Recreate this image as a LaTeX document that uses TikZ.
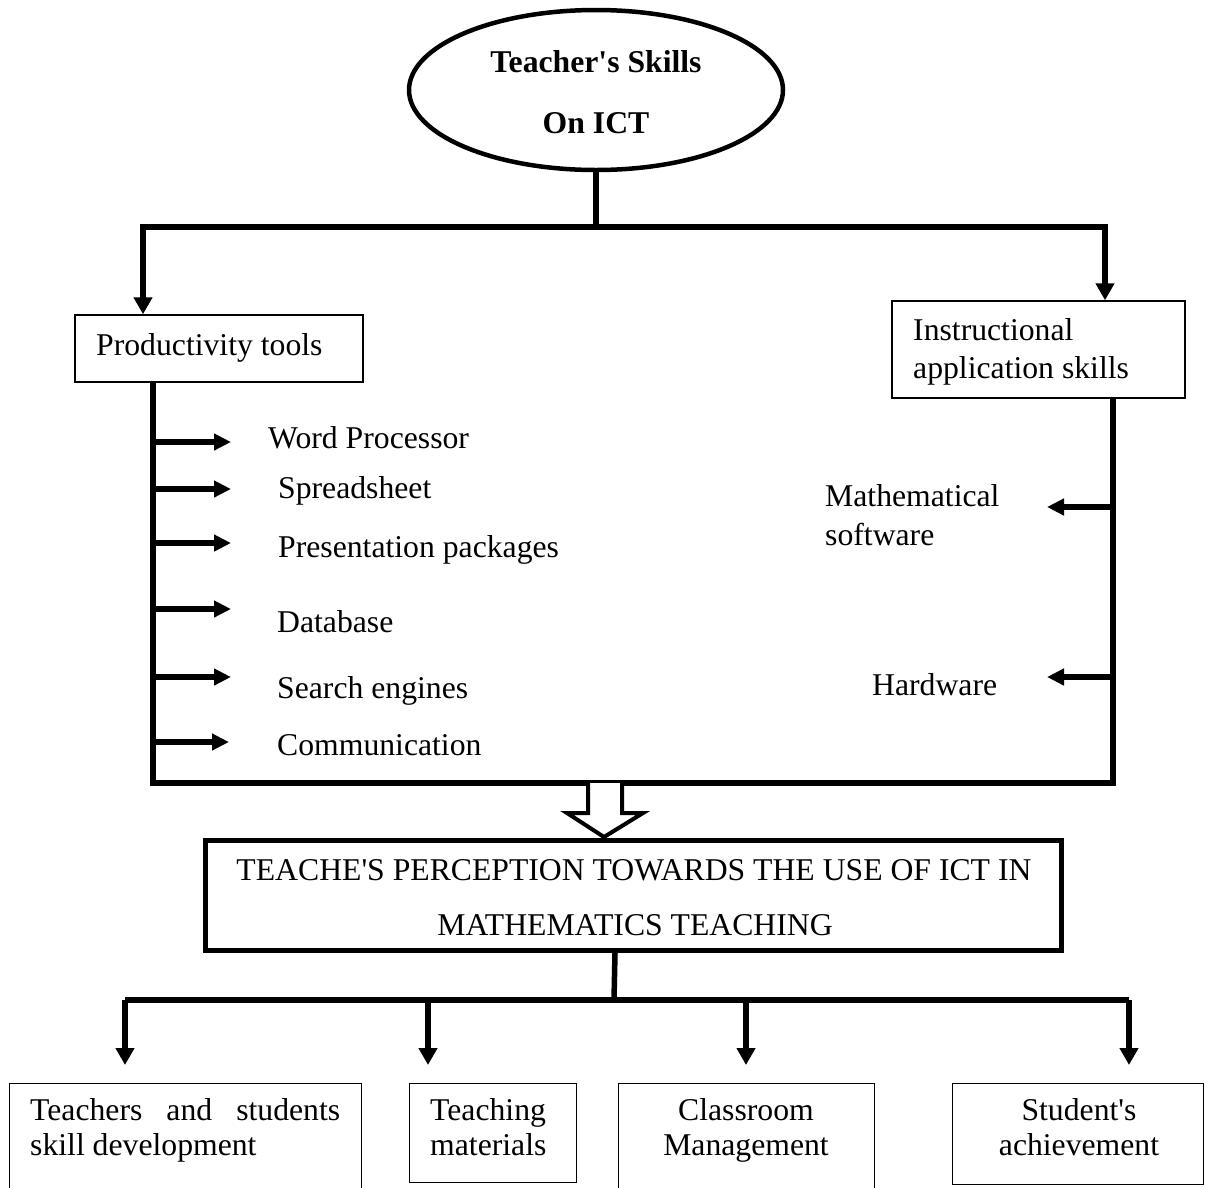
\documentclass[tikz,border=0pt]{standalone}
\usepackage{fontspec}
\setmainfont{Liberation Serif}
\usetikzlibrary{shapes.geometric,arrows.meta}
\newcommand{\sq}{\textquotesingle}
\begin{document}
\begin{tikzpicture}[x=1pt,y=-1pt,
  font=\fontsize{31.7}{38}\selectfont,
  conn/.style={line width=5.5pt},
  arr/.style={line width=5.5pt,-{Triangle[width=18pt,length=17pt]}},
  sarr/.style={line width=5.7pt,-{Triangle[width=16pt,length=17pt]}},
  box/.style={draw,line width=1.4pt,inner sep=0pt},
  txt/.style={inner sep=0pt,anchor=base west},
  ctxt/.style={inner sep=0pt,anchor=base}]
\useasboundingbox (0,0) rectangle (1205,1187);
\fill[white] (0,0) rectangle (1205,1187);

% top ellipse
\node[ellipse,draw,line width=4.5pt,minimum width=374pt,minimum height=160pt] (ell) at (596,90) {};
\node[ctxt,font=\fontsize{31.7}{38}\selectfont\bfseries] (t1) at (596,72) {Teacher\sq s Skills};
\node[ctxt,font=\fontsize{31.7}{38}\selectfont\bfseries] (t2) at (596,133) {On ICT};

% second level boxes
\node[box,minimum width=288pt,minimum height=67pt] (prod) at (219,348.5) {};
\node[txt] (prodt) at (96,355) {Productivity tools};
\node[box,minimum width=293pt,minimum height=97pt] (inst) at (1038.5,349.5) {};
\node[txt] (inst1) at (913,340) {Instructional};
\node[txt] (inst2) at (913,378) {application skills};

\coordinate (jtop) at (596,227);
\coordinate (pl) at (143,227);
\coordinate (pr) at (1105,227);
\draw[conn] (ell.south) -- (jtop);
\draw[arr,line join=miter] (jtop) -- (pl) -- (pl |- prod.north);
\draw[arr,line join=miter] (jtop) -- (pr) -- (pr |- inst.north);

% frame
\coordinate (fl) at (153,783);
\coordinate (fr) at (1113,783);
\draw[conn,line join=miter] (prod.south -| fl) -- (fl) -- (fr) -- (inst.south -| fr);

% productivity items
\node[txt] (wp) at (268,448) {Word Processor};
\node[txt] (ss) at (278,498) {Spreadsheet};
\node[txt] (pp) at (278,557) {Presentation packages};
\node[txt] (db) at (277,632) {Database};
\node[txt] (se) at (277,698) {Search engines};
\node[txt] (co) at (277,755) {Communication};
\draw[sarr] (153,442) -- (231,442);
\draw[sarr] (153,489) -- (231,489);
\draw[sarr] (153,543) -- (231,543);
\draw[sarr] (153,609) -- (231,609);
\draw[sarr] (153,677) -- (231,677);
\draw[sarr] (153,742) -- (229,742);

% instructional items
\node[txt] (ms1) at (825,506) {Mathematical};
\node[txt] (ms2) at (825,545) {software};
\node[txt] (hw) at (872,695) {Hardware};
\draw[sarr] (1113,507) -- (1047,507);
\draw[sarr] (1113,677) -- (1047,677);

% hollow arrow
\draw[line width=4pt,fill=white,line join=miter]
  (588,783) -- (588,813) -- (567,813) -- (604,837) -- (643,813) -- (622,813) -- (622,783);

% perception box
\node[draw,line width=5pt,minimum width=856pt,minimum height=110pt,inner sep=0pt] (pbox) at (633.5,895.5) {};
\node[ctxt] (pt1) at (634,880) {TEACHE\sq S PERCEPTION TOWARDS THE USE OF ICT IN};
\node[ctxt] (pt2) at (635,935) {MATHEMATICS TEACHING};

% bottom distribution
\coordinate (sb) at (615,953);
\coordinate (jb) at (614,1000);
\coordinate (a1) at (125,1000);
\coordinate (a2) at (428,1000);
\coordinate (a3) at (746,1000);
\coordinate (a4) at (1129,1000);
\draw[conn] (sb) -- (jb);
\draw[conn] (a1) -- (a4);

% bottom boxes
\node[box,anchor=north west,minimum width=352pt,minimum height=115pt] (b1) at (9,1083) {};
\node[box,anchor=north west,minimum width=167pt,minimum height=99pt] (b2) at (409,1083) {};
\node[box,anchor=north west,minimum width=256pt,minimum height=115pt] (b3) at (618,1083) {};
\node[box,anchor=north west,minimum width=251pt,minimum height=101pt] (b4) at (952,1083) {};

\draw[arr,shorten >=18pt] (a1) -- (a1 |- b1.north);
\draw[arr,shorten >=18pt] (a2) -- (a2 |- b2.north);
\draw[arr,shorten >=18pt] (a3) -- (a3 |- b3.north);
\draw[arr,shorten >=18pt] (a4) -- (a4 |- b4.north);

\node[txt] (b1t1) at (30,1120) {\makebox[310pt][s]{Teachers and students}};
\node[txt] (b1t2) at (30,1155) {skill development};
\node[txt] (b2t1) at (430,1120) {Teaching};
\node[txt] (b2t2) at (430,1155) {materials};
\node[ctxt] (b3t1) at (746,1120) {Classroom};
\node[ctxt] (b3t2) at (746,1155) {Management};
\node[ctxt] (b4t1) at (1079,1120) {Student\sq s};
\node[ctxt] (b4t2) at (1079,1155) {achievement};
\end{tikzpicture}
\end{document}
